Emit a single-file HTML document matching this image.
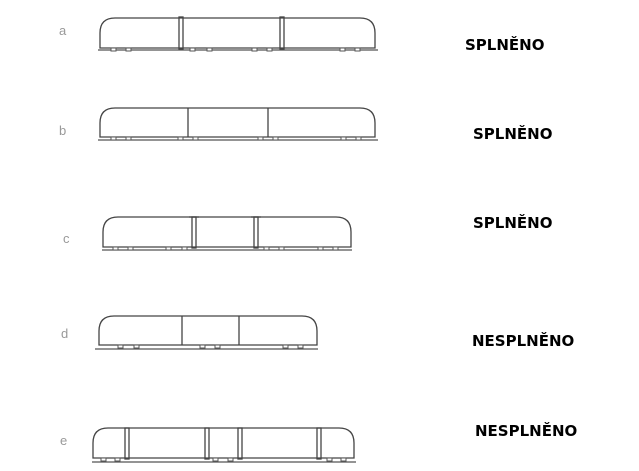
<!DOCTYPE html>
<html><head><meta charset="utf-8"><style>
html,body{margin:0;padding:0;background:#fff;width:639px;height:471px;overflow:hidden}
svg{display:block}
.t{font-family:"DejaVu Sans","Liberation Sans",sans-serif;font-weight:bold;font-size:15px;fill:#000}
.l{font-family:"Liberation Sans",sans-serif;font-size:13px;fill:#999}
.b{fill:none;stroke:#444;stroke-width:1.3}
.g{stroke:#555;stroke-width:1.3}
.w{fill:#fff;stroke:#555;stroke-width:1}
</style></head><body>
<svg width="639" height="471" viewBox="0 0 639 471">
<!-- a -->
<text class="l" x="59" y="35">a</text>
<path class="b" d="M100,48 L100,33 Q100,18 115,18 L360,18 Q375,18 375,33 L375,48 Z"/>
<line class="g" x1="98" y1="50" x2="378" y2="50"/>
<rect class="b" x="179" y="17" width="4" height="32"/><rect class="b" x="280" y="17" width="4" height="32"/>
<g class="w"><rect x="111" y="48" width="5" height="3"/><rect x="126" y="48" width="5" height="3"/><rect x="190" y="48" width="5" height="3"/><rect x="207" y="48" width="5" height="3"/><rect x="252" y="48" width="5" height="3"/><rect x="267" y="48" width="5" height="3"/><rect x="340" y="48" width="5" height="3"/><rect x="355" y="48" width="5" height="3"/></g>
<text class="t" x="465" y="50">SPLNĚNO</text>
<!-- b -->
<text class="l" x="59" y="135">b</text>
<path class="b" d="M100,137 L100,123 Q100,108 115,108 L360,108 Q375,108 375,123 L375,137 Z"/>
<line class="g" x1="98" y1="140" x2="378" y2="140"/>
<line class="b" x1="188" y1="108" x2="188" y2="137"/><line class="b" x1="268" y1="108" x2="268" y2="137"/>
<g class="w"><rect x="111" y="137" width="5" height="3"/><rect x="126" y="137" width="5" height="3"/><rect x="178" y="137" width="5" height="3"/><rect x="193" y="137" width="5" height="3"/><rect x="258" y="137" width="5" height="3"/><rect x="273" y="137" width="5" height="3"/><rect x="341" y="137" width="5" height="3"/><rect x="356" y="137" width="5" height="3"/></g>
<text class="t" x="473" y="139">SPLNĚNO</text>
<!-- c -->
<text class="l" x="63" y="243">c</text>
<path class="b" d="M103,247 L103,232 Q103,217 118,217 L336,217 Q351,217 351,232 L351,247 Z"/>
<line class="g" x1="102" y1="250" x2="352" y2="250"/>
<rect class="b" x="192" y="217" width="4" height="31"/><rect class="b" x="254" y="217" width="4" height="31"/>
<line class="b" x1="189" y1="217" x2="199" y2="217"/><line class="b" x1="251" y1="217" x2="261" y2="217"/>
<g class="w"><rect x="113" y="247" width="5" height="3"/><rect x="128" y="247" width="5" height="3"/><rect x="166" y="247" width="5" height="3"/><rect x="182" y="247" width="5" height="3"/><rect x="264" y="247" width="5" height="3"/><rect x="279" y="247" width="5" height="3"/><rect x="318" y="247" width="5" height="3"/><rect x="333" y="247" width="5" height="3"/></g>
<text class="t" x="473" y="228">SPLNĚNO</text>
<!-- d -->
<text class="l" x="61" y="338">d</text>
<path class="b" d="M99,345 L99,331 Q99,316 114,316 L302,316 Q317,316 317,331 L317,345 Z"/>
<line class="g" x1="95" y1="349" x2="318" y2="349"/>
<line class="b" x1="182" y1="316" x2="182" y2="345"/><line class="b" x1="239" y1="316" x2="239" y2="345"/>
<g class="w"><rect x="118" y="345" width="5" height="3"/><rect x="134" y="345" width="5" height="3"/><rect x="200" y="345" width="5" height="3"/><rect x="215" y="345" width="5" height="3"/><rect x="283" y="345" width="5" height="3"/><rect x="298" y="345" width="5" height="3"/></g>
<text class="t" x="472" y="346">NESPLNĚNO</text>
<!-- e -->
<text class="l" x="60" y="445">e</text>
<path class="b" d="M93,458 L93,443 Q93,428 108,428 L339,428 Q354,428 354,443 L354,458 Z"/>
<line class="g" x1="92" y1="462" x2="356" y2="462"/>
<rect class="b" x="125" y="428" width="4" height="31"/><rect class="b" x="205" y="428" width="4" height="31"/><rect class="b" x="238" y="428" width="4" height="31"/><rect class="b" x="317" y="428" width="4" height="31"/>
<g class="w"><rect x="101" y="458" width="5" height="3"/><rect x="115" y="458" width="5" height="3"/><rect x="213" y="458" width="5" height="3"/><rect x="228" y="458" width="5" height="3"/><rect x="327" y="458" width="5" height="3"/><rect x="341" y="458" width="5" height="3"/></g>
<text class="t" x="475" y="436">NESPLNĚNO</text>
</svg>
</body></html>
